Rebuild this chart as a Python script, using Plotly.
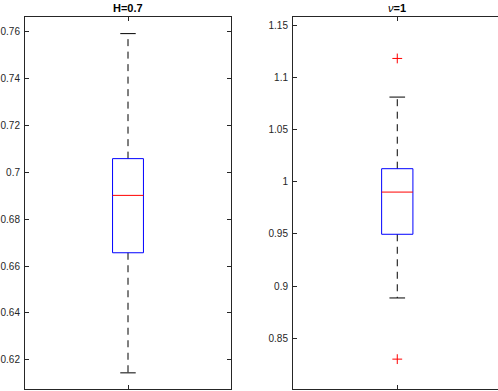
import plotly.graph_objects as go

W, H = 498, 391

titles = ["H=0.7", "<i>ν</i><b>=1</b>"]
q1 = [0.6657, 0.9496]
med = [0.6902, 0.9900]
q3 = [0.7059, 1.0124]
lo_whisk = [0.6144, 0.8886]
hi_whisk = [0.7593, 1.0810]
outliers = [[], [1.118, 0.830]]
y_ranges = [[0.6075, 0.7664], [0.8014, 1.1577]]
y_ticks = [[0.62, 0.64, 0.66, 0.68, 0.70, 0.72, 0.74, 0.76],
           [0.85, 0.90, 0.95, 1.00, 1.05, 1.10, 1.15]]
y_ticktext = [["0.62", "0.64", "0.66", "0.68", "0.7", "0.72", "0.74", "0.76"],
              ["0.85", "0.9", "0.95", "1", "1.05", "1.1", "1.15"]]

xpos = 1.0
box_half = 0.075
cap_half = 0.0375

AX = "#262626"
FONT = "Liberation Sans, Arial, sans-serif"

fig = go.Figure()

for i in range(2):
    xa = "x" if i == 0 else "x2"
    ya = "y" if i == 0 else "y2"
    # whiskers (dashed)
    fig.add_trace(go.Scatter(
        x=[xpos, xpos, None, xpos, xpos],
        y=[q3[i], hi_whisk[i], None, q1[i], lo_whisk[i]],
        mode="lines", line=dict(color="black", width=1, dash="7px,5.5px"),
        xaxis=xa, yaxis=ya, showlegend=False, hoverinfo="skip"))
    # caps
    fig.add_trace(go.Scatter(
        x=[xpos - cap_half, xpos + cap_half, None, xpos - cap_half, xpos + cap_half],
        y=[hi_whisk[i], hi_whisk[i], None, lo_whisk[i], lo_whisk[i]],
        mode="lines", line=dict(color="black", width=1),
        xaxis=xa, yaxis=ya, showlegend=False, hoverinfo="skip"))
    # box
    fig.add_trace(go.Scatter(
        x=[xpos - box_half, xpos + box_half, xpos + box_half, xpos - box_half, xpos - box_half],
        y=[q1[i], q1[i], q3[i], q3[i], q1[i]],
        mode="lines", line=dict(color="#0000FF", width=1),
        xaxis=xa, yaxis=ya, showlegend=False, hoverinfo="skip"))
    # median
    fig.add_trace(go.Scatter(
        x=[xpos - box_half, xpos + box_half],
        y=[med[i], med[i]],
        mode="lines", line=dict(color="#FF0000", width=1),
        xaxis=xa, yaxis=ya, showlegend=False, hoverinfo="skip"))
    if outliers[i]:
        fig.add_trace(go.Scatter(
            x=[xpos] * len(outliers[i]), y=outliers[i],
            mode="markers",
            marker=dict(symbol="cross-thin", size=7, line=dict(color="#FF0000", width=1)),
            xaxis=xa, yaxis=ya, showlegend=False, hoverinfo="skip"))

ydom = [2 / H, (H - 17) / H]
tickfont = dict(family=FONT, size=10, color=AX)

fig.update_layout(
    width=W, height=H,
    margin=dict(l=0, r=0, t=0, b=0),
    paper_bgcolor="white", plot_bgcolor="white",
    showlegend=False,
    xaxis=dict(domain=[25 / W, 231 / W], range=[0.5, 1.5], tickvals=[1], ticktext=[""],
               ticks="inside", ticklen=4, tickcolor=AX, showline=True, linecolor=AX,
               linewidth=1, mirror="allticks", showgrid=False, zeroline=False, anchor="y"),
    yaxis=dict(domain=ydom, range=y_ranges[0], tickvals=y_ticks[0], ticktext=y_ticktext[0],
               ticks="inside", ticklen=4, tickcolor=AX, showline=True, linecolor=AX,
               linewidth=1, mirror="allticks", showgrid=False, zeroline=False,
               tickfont=tickfont, anchor="x", ticklabelstandoff=2),
    xaxis2=dict(domain=[293 / W, 1.0], range=[0.5, 1.483], tickvals=[1], ticktext=[""],
                ticks="inside", ticklen=4, tickcolor=AX, showline=True, linecolor=AX,
                linewidth=1, mirror="allticks", showgrid=False, zeroline=False, anchor="y2"),
    yaxis2=dict(domain=ydom, range=y_ranges[1], tickvals=y_ticks[1], ticktext=y_ticktext[1],
                ticks="inside", ticklen=4, tickcolor=AX, showline=True, linecolor=AX,
                linewidth=1, mirror=False, showgrid=False, zeroline=False,
                tickfont=tickfont, anchor="x2", ticklabelstandoff=2),
    yaxis4=dict(domain=ydom, range=y_ranges[1], tickvals=y_ticks[1], ticktext=[""] * len(y_ticks[1]),
                ticks="inside", ticklen=4, tickcolor=AX, showline=False, showgrid=False,
                zeroline=False, overlaying="y2", side="right", anchor="x2"),
    annotations=[
        dict(text="<b>" + titles[0] + "</b>", xref="x domain", yref="paper", x=0.5, y=(H - 16) / H,
             xanchor="center", yanchor="bottom", showarrow=False,
             font=dict(family=FONT, size=11, color="black")),
        dict(text=titles[1], xref="x2 domain", yref="paper", x=0.5 / 0.983, y=(H - 16) / H,
             xanchor="center", yanchor="bottom", showarrow=False,
             font=dict(family=FONT, size=11, color="black")),
    ],
)

fig.write_html("out.html",
               config={"displayModeBar": False},
               post_script="document.body.style.margin='0';document.body.style.padding='0';"
                           "document.documentElement.style.overflow='hidden';")
